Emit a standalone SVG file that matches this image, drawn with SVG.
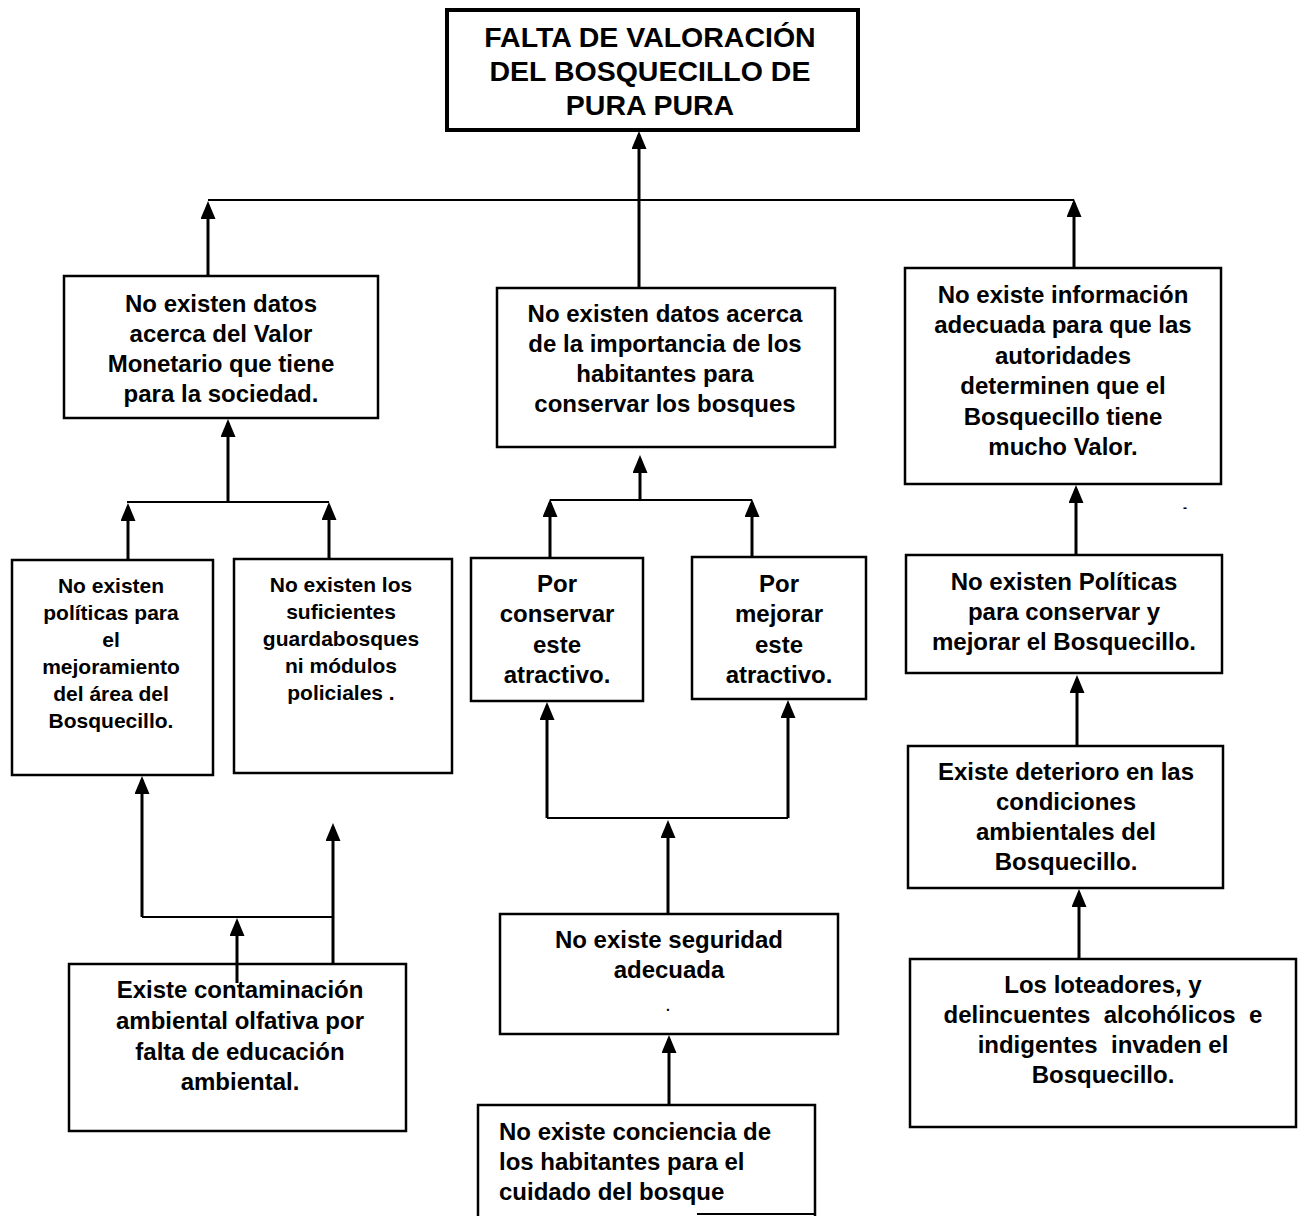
<svg xmlns="http://www.w3.org/2000/svg" width="1300" height="1216" viewBox="0 0 1300 1216">
<style>
  .bg { fill: #ffffff; }
  .box { fill: #ffffff; stroke: #000000; stroke-width: 2.5; }
  .title { fill: #ffffff; stroke: #000000; stroke-width: 4; }
  .t { font-family: "Liberation Sans", Arial, sans-serif; font-weight: bold; fill: #000000; text-anchor: middle; }
  .tl { font-family: "Liberation Sans", Arial, sans-serif; font-weight: bold; fill: #000000; text-anchor: start; font-size: 24px; }
  .s28 { font-size: 28.5px; }
  .s24 { font-size: 24px; }
  .s21 { font-size: 21px; }
  .v { fill: none; stroke: #000000; stroke-width: 3; }
  .h { fill: none; stroke: #000000; stroke-width: 2; }
</style>
<defs>
  <marker id="arr" viewBox="0 0 18 15" refX="14" refY="7.5" markerWidth="18" markerHeight="15" markerUnits="userSpaceOnUse" orient="auto">
    <path d="M0,0 L18,7.5 L0,15 z" fill="#000000"/>
  </marker>
</defs>
<rect class="bg" x="0" y="0" width="1300" height="1216"/>

<g id="n-title">
  <rect class="title" x="447" y="10" width="411" height="120"/>
  <text class="t s28" x="650" y="47">FALTA DE VALORACIÓN</text>
  <text class="t s28" x="650" y="81">DEL BOSQUECILLO DE</text>
  <text class="t s28" x="650" y="115">PURA PURA</text>
</g>

<g id="n-l1">
  <rect class="box" x="64" y="276" width="314" height="142"/>
  <text class="t s24" x="221" y="312">No existen datos</text>
  <text class="t s24" x="221" y="342">acerca del Valor</text>
  <text class="t s24" x="221" y="372">Monetario que tiene</text>
  <text class="t s24" x="221" y="402">para la sociedad.</text>
</g>

<g id="n-m1">
  <rect class="box" x="497" y="288" width="338" height="159"/>
  <text class="t s24" x="665" y="322">No existen datos acerca</text>
  <text class="t s24" x="665" y="352">de la importancia de los</text>
  <text class="t s24" x="665" y="382">habitantes para</text>
  <text class="t s24" x="665" y="412">conservar los bosques</text>
</g>

<g id="n-r1">
  <rect class="box" x="905" y="268" width="316" height="216"/>
  <text class="t s24" x="1063" y="303">No existe información</text>
  <text class="t s24" x="1063" y="333">adecuada para que las</text>
  <text class="t s24" x="1063" y="364">autoridades</text>
  <text class="t s24" x="1063" y="394">determinen que el</text>
  <text class="t s24" x="1063" y="425">Bosquecillo tiene</text>
  <text class="t s24" x="1063" y="455">mucho Valor.</text>
</g>

<g id="n-l2a">
  <rect class="box" x="12" y="560" width="201" height="215"/>
  <text class="t s21" x="111" y="593">No existen</text>
  <text class="t s21" x="111" y="620">políticas para</text>
  <text class="t s21" x="111" y="647">el</text>
  <text class="t s21" x="111" y="674">mejoramiento</text>
  <text class="t s21" x="111" y="701">del área del</text>
  <text class="t s21" x="111" y="728">Bosquecillo.</text>
</g>

<g id="n-l2b">
  <rect class="box" x="234" y="559" width="218" height="214"/>
  <text class="t s21" x="341" y="592">No existen los</text>
  <text class="t s21" x="341" y="619">suficientes</text>
  <text class="t s21" x="341" y="646">guardabosques</text>
  <text class="t s21" x="341" y="673">ni módulos</text>
  <text class="t s21" x="341" y="700">policiales .</text>
</g>

<g id="n-m2a">
  <rect class="box" x="471" y="558" width="172" height="143"/>
  <text class="t s24" x="557" y="592">Por</text>
  <text class="t s24" x="557" y="622">conservar</text>
  <text class="t s24" x="557" y="653">este</text>
  <text class="t s24" x="557" y="683">atractivo.</text>
</g>

<g id="n-m2b">
  <rect class="box" x="692" y="557" width="174" height="142"/>
  <text class="t s24" x="779" y="592">Por</text>
  <text class="t s24" x="779" y="622">mejorar</text>
  <text class="t s24" x="779" y="653">este</text>
  <text class="t s24" x="779" y="683">atractivo.</text>
</g>

<g id="n-r2">
  <rect class="box" x="906" y="555" width="316" height="118"/>
  <text class="t s24" x="1064" y="590">No existen Políticas</text>
  <text class="t s24" x="1064" y="620">para conservar y</text>
  <text class="t s24" x="1064" y="650">mejorar el Bosquecillo.</text>
</g>

<g id="n-r3">
  <rect class="box" x="908" y="746" width="315" height="142"/>
  <text class="t s24" x="1066" y="780">Existe deterioro en las</text>
  <text class="t s24" x="1066" y="810">condiciones</text>
  <text class="t s24" x="1066" y="840">ambientales del</text>
  <text class="t s24" x="1066" y="870">Bosquecillo.</text>
</g>

<g id="n-r4">
  <rect class="box" x="910" y="959" width="386" height="168"/>
  <text class="t s24" x="1103" y="993">Los loteadores, y</text>
  <text class="t s24" x="1103" y="1023" xml:space="preserve">delincuentes  alcohólicos  e</text>
  <text class="t s24" x="1103" y="1053" xml:space="preserve">indigentes  invaden el</text>
  <text class="t s24" x="1103" y="1083">Bosquecillo.</text>
  <text class="t" x="1185" y="512" font-size="12">-</text>
</g>

<g id="n-l3">
  <rect class="box" x="69" y="964" width="337" height="167"/>
  <text class="t s24" x="240" y="998">Existe contaminación</text>
  <text class="t s24" x="240" y="1029">ambiental olfativa por</text>
  <text class="t s24" x="240" y="1060">falta de educación</text>
  <text class="t s24" x="240" y="1090">ambiental.</text>
</g>

<g id="n-m3">
  <rect class="box" x="500" y="914" width="338" height="120"/>
  <text class="t s24" x="669" y="948">No existe seguridad</text>
  <text class="t s24" x="669" y="978">adecuada</text>
  <text class="t" x="668" y="1011" font-size="14">.</text>
</g>

<g id="n-m4">
  <path class="box" d="M478,1216 V1105 H815 V1216" fill="#ffffff"/>
  <path class="h" d="M697,1214 H815"/>
  <text class="tl" x="499" y="1140">No existe conciencia de</text>
  <text class="tl" x="499" y="1170">los habitantes para el</text>
  <text class="tl" x="499" y="1200">cuidado del bosque</text>
</g>

<g id="connectors">
  <path class="v" d="M639,288 V135" marker-end="url(#arr)"/>
  <path class="h" d="M208,200 H1074"/>
  <path class="v" d="M208,276 V205" marker-end="url(#arr)"/>
  <path class="v" d="M1074,268 V203" marker-end="url(#arr)"/>

  <path class="v" d="M228,502 V423" marker-end="url(#arr)"/>
  <path class="h" d="M127,502 H329"/>
  <path class="v" d="M128,560 V507" marker-end="url(#arr)"/>
  <path class="v" d="M329,559 V506" marker-end="url(#arr)"/>

  <path class="v" d="M640,500 V459" marker-end="url(#arr)"/>
  <path class="h" d="M550,500 H752"/>
  <path class="v" d="M550,558 V503" marker-end="url(#arr)"/>
  <path class="v" d="M752,557 V503" marker-end="url(#arr)"/>

  <path class="v" d="M1076,555 V489" marker-end="url(#arr)"/>
  <path class="v" d="M1077,745 V679" marker-end="url(#arr)"/>
  <path class="v" d="M1079,959 V893" marker-end="url(#arr)"/>

  <path class="v" d="M142,917 V780" marker-end="url(#arr)"/>
  <path class="h" d="M142,917 H333"/>
  <path class="v" d="M333,964 V827" marker-end="url(#arr)"/>
  <path class="v" d="M237,983 V922" marker-end="url(#arr)"/>

  <path class="v" d="M547,818 V706" marker-end="url(#arr)"/>
  <path class="h" d="M547,818 H788"/>
  <path class="v" d="M788,818 V704" marker-end="url(#arr)"/>
  <path class="v" d="M668,914 V824" marker-end="url(#arr)"/>
  <path class="v" d="M669,1105 V1039" marker-end="url(#arr)"/>
</g>
</svg>
